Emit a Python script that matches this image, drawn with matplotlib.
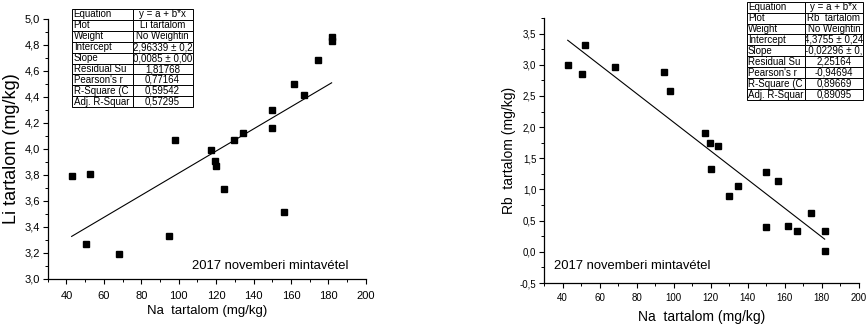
import numpy as np
import matplotlib
from matplotlib import pyplot as plt
from matplotlib.ticker import MultipleLocator, FuncFormatter

matplotlib.rcParams.update({
    "font.family": ["Liberation Sans", "DejaVu Sans"],
    "axes.unicode_minus": False,
})

# Na content (mg/kg), same samples on both panels
na_li = [42.8, 50.5, 52.4, 68.1, 94.9, 98.0, 117.2, 119.6, 120.0, 124.1,
         129.8, 134.6, 150.0, 150.0, 156.3, 161.8, 166.8, 174.4, 181.7, 181.7]
li = [3.795, 3.27, 3.81, 3.19, 3.33, 4.07, 3.99, 3.905, 3.87, 3.695,
      4.065, 4.12, 4.30, 4.16, 3.515, 4.50, 4.415, 4.68, 4.86, 4.83]

na_rb = [42.8, 50.5, 52.4, 68.1, 94.9, 98.0, 117.2, 119.6, 120.0, 124.1,
         129.8, 134.6, 150.0, 150.0, 156.3, 161.8, 166.8, 174.4, 181.7, 181.7]
rb = [2.994, 2.856, 3.323, 2.957, 2.882, 2.587, 1.899, 1.745, 1.336, 1.69,
      0.896, 1.052, 1.287, 0.392, 1.138, 0.413, 0.337, 0.627, 0.328, 0.015]

# linear fits as reported in the Origin tables
li_fit = (2.96339, 0.0085)
rb_fit = (4.3755, -0.02296)

tbl_keys = ["Equation", "Plot", "Weight", "Intercept", "Slope",
            "Residual Su", "Pearson's r", "R-Square (C", "Adj. R-Squar"]
li_tbl = ["y = a + b*x", "Li tartalom", "No Weightin", "2,96339 \u00b1 0,2",
          "0,0085 \u00b1 0,00", "1,81768", "0,77164", "0,59542", "0,57295"]
rb_tbl = ["y = a + b*x", "Rb  tartalom", "No Weightin", "4,3755 \u00b1 0,24",
          "-0,02296 \u00b1 0,", "2,25164", "-0,94694", "0,89669", "0,89095"]

note = "2017 novemberi mintav\u00e9tel"

comma = FuncFormatter(lambda v, p: "{:.1f}".format(v).replace(".", ","))
nofmt = FuncFormatter(lambda v, p: "{:g}".format(v))


def style_axes(ax, tick_fs, xpad):
    ax.spines["top"].set_visible(False)
    ax.spines["right"].set_visible(False)
    for s in ("left", "bottom"):
        ax.spines[s].set_linewidth(0.9)
    ax.tick_params(which="major", direction="out", length=3.5, width=0.8,
                   labelsize=tick_fs, pad=2)
    ax.tick_params(axis="x", which="major", pad=xpad)
    ax.tick_params(which="minor", direction="out", length=2, width=0.7)
    ax.xaxis.set_major_locator(MultipleLocator(20))
    ax.xaxis.set_minor_locator(MultipleLocator(10))
    ax.xaxis.set_major_formatter(nofmt)
    ax.yaxis.set_major_formatter(comma)


def add_table(fig, rect, vals, fs):
    tax = fig.add_axes(rect)
    tax.axis("off")
    rows = [[k, v] for k, v in zip(tbl_keys, vals)]
    t = tax.table(cellText=rows, bbox=[0, 0, 1, 1], colWidths=[0.5, 0.5])
    t.auto_set_font_size(False)
    t.set_fontsize(fs)
    for (r, c), cell in t.get_celld().items():
        cell.PAD = 0.02
        cell.set_linewidth(0.7)
        cell.set_text_props(ha="left" if c == 0 else "center")
        cell._loc = "left" if c == 0 else "center"
    return t


fig = plt.figure(figsize=(8.67, 3.24), dpi=100)

# left panel: Li
ax1 = fig.add_axes([0.055, 0.139, 0.367, 0.803])
ax1.plot(na_li, li, "s", color="black", markersize=4.5)
xs = np.array([min(na_li), max(na_li)])
ax1.plot(xs, li_fit[0] + li_fit[1] * xs, color="black", lw=0.8)
ax1.set_xlim(30, 200)
ax1.set_ylim(3.0, 5.0)
ax1.yaxis.set_major_locator(MultipleLocator(0.2))
ax1.yaxis.set_minor_locator(MultipleLocator(0.1))
style_axes(ax1, 8, 5)
ax1.set_xlabel("Na  tartalom (mg/kg)", fontsize=9.5, labelpad=3)
ax1.set_ylabel("Li tartalom (mg/kg)", fontsize=13, labelpad=3)
ax1.text(0.455, 0.05, note, transform=ax1.transAxes, fontsize=9.4,
         va="center", ha="left")
t1 = add_table(fig, [0.0836, 0.669, 0.1386, 0.3034], li_tbl, 7.0)

# right panel: Rb
ax2 = fig.add_axes([0.6275, 0.1265, 0.3627, 0.818])
ax2.plot(na_rb, rb, "s", color="black", markersize=4.5)
xs = np.array([min(na_rb), max(na_rb)])
ax2.plot(xs, rb_fit[0] + rb_fit[1] * xs, color="black", lw=0.8)
ax2.set_xlim(30, 200)
ax2.set_ylim(-0.5, 3.75)
ax2.yaxis.set_major_locator(MultipleLocator(0.5))
ax2.yaxis.set_minor_locator(MultipleLocator(0.25))
style_axes(ax2, 7, 4)
ax2.set_xlabel("Na  tartalom (mg/kg)", fontsize=10, labelpad=5)
ax2.set_ylabel("Rb  tartalom (mg/kg)", fontsize=10, labelpad=3)
ax2.text(0.033, 0.065, note, transform=ax2.transAxes, fontsize=9.4,
         va="center", ha="left")
t2 = add_table(fig, [0.8612, 0.6914, 0.1341, 0.3034], rb_tbl, 7.0)

# cell positions are only known after a draw; then cut long entries
# at the cell border like Origin does
fig.canvas.draw()
for t in (t1, t2):
    for cell in t.get_celld().values():
        cell.get_text().set_clip_on(True)
        cell.get_text().set_clip_path(cell)

fig.savefig("out.png", dpi=100)
